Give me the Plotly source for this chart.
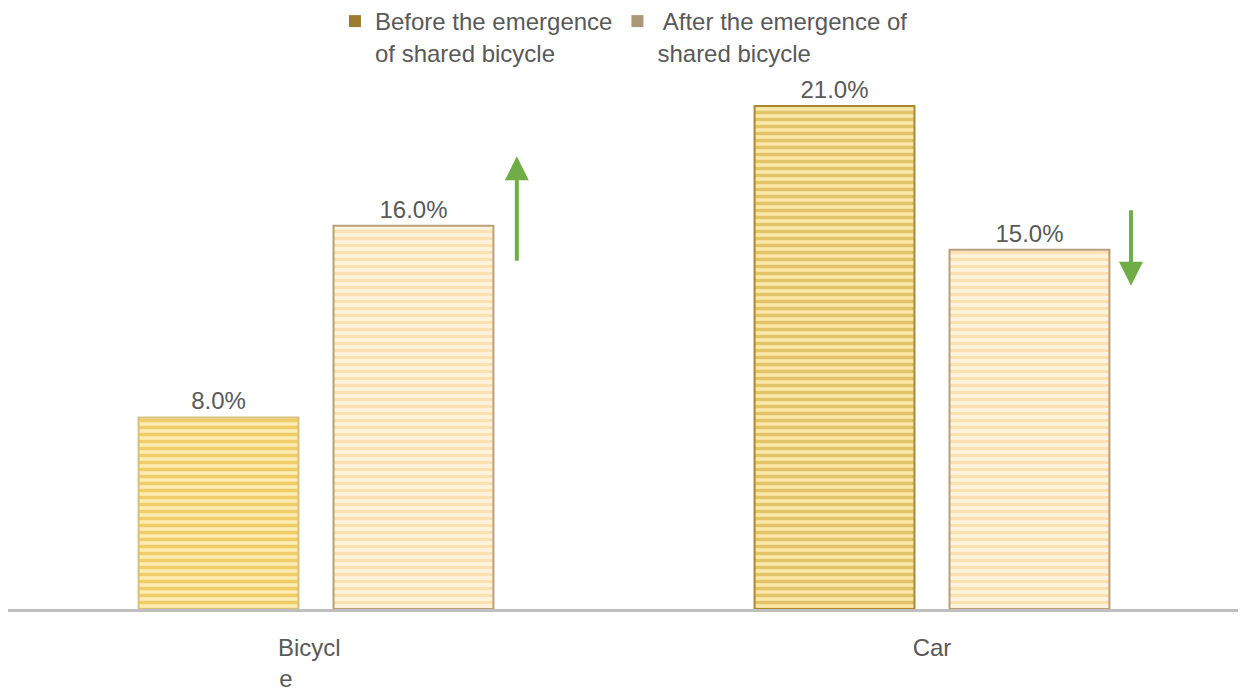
import plotly.graph_objects as go

categories = ["Bicycle", "Car"]
tick_labels = ["Bicycl" + "\u00a0" * 2 + "<br>e" + "\u00a0" * 9, "Car"]
series_names = ["Before the emergence<br>of shared bicycle", " After the emergence of<br>shared bicycle"]
before_vals = [8.0, 21.0]
after_vals = [16.0, 15.0]
legend_colors = ["#9b7d2e", "#ab9878"]
before_stripes = ["#e3ae1c", "#c99f26"]
before_bg = ["#fdedb4", "#fbe8aa"]
before_edges = ["#d6c27e", "#a98a2c"]

font = "Liberation Sans, Arial, sans-serif"
txt = "#595959"

fig = go.Figure()

for cat, val, fg, bg, edge in zip(categories, before_vals, before_stripes, before_bg, before_edges):
    fig.add_trace(go.Bar(
        x=[cat], y=[val], name=series_names[0], showlegend=False, offsetgroup="before",
        text=[f"{val:.1f}%"], textposition="outside",
        textfont=dict(size=24, color=txt, family=font), cliponaxis=False,
        marker=dict(
            color=bg,
            line=dict(color=edge, width=2),
            pattern=dict(shape="-", fgcolor=fg, bgcolor=bg,
                         size=7, solidity=0.5, fillmode="overlay"),
        ),
    ))
fig.add_trace(go.Bar(
    x=categories, y=after_vals, name=series_names[1], showlegend=False, offsetgroup="after",
    text=[f"{v:.1f}%" for v in after_vals], textposition="outside",
    textfont=dict(size=24, color=txt, family=font), cliponaxis=False,
    marker=dict(
        color="#fff3dc",
        line=dict(color="#b9a07a", width=2),
        pattern=dict(shape="-", fgcolor="#f7cd85", bgcolor="#fff3dc",
                     size=7, solidity=0.45, fillmode="overlay"),
    ),
))

# legend proxies
for name, col in zip(series_names, legend_colors):
    fig.add_trace(go.Scatter(
        x=[None], y=[None], mode="markers", name=name,
        marker=dict(symbol="square", size=12, color=col),
    ))

arrow = dict(showarrow=True, arrowhead=2, arrowsize=1.2, arrowwidth=4,
             arrowcolor="#70ad47", text="", xref="x", yref="y", axref="pixel", ayref="pixel", ax=0)
fig.add_annotation(x=0.326, y=18.9, ay=106, **arrow)
fig.add_annotation(x=1.323, y=13.5, ay=-77, **arrow)

fig.update_layout(
    width=1246, height=690,
    margin=dict(l=0, r=14, t=52, b=89, autoexpand=False),
    paper_bgcolor="white", plot_bgcolor="white",
    barmode="group", bargap=0.367, bargroupgap=0.18,
    font=dict(family=font, color=txt, size=24),
    legend=dict(orientation="h", xref="container", yref="paper", x=0.2624, xanchor="left",
                y=1.1111, yanchor="top",
                valign="top", font=dict(size=24, color=txt, family=font),
                itemwidth=30, tracegroupgap=0, bgcolor="rgba(0,0,0,0)"),
    xaxis=dict(tickvals=categories, ticktext=tick_labels, showline=True, linecolor="#bfbfbf",
               linewidth=3, ticks="outside", ticklen=15, tickcolor="rgba(0,0,0,0)",
               tickfont=dict(size=24, color=txt, family=font), showgrid=False, zeroline=False,
               automargin=False),
    yaxis=dict(range=[0, 22.92], visible=False, showgrid=False, zeroline=False, automargin=False),
)

fig.write_html("out.html")
